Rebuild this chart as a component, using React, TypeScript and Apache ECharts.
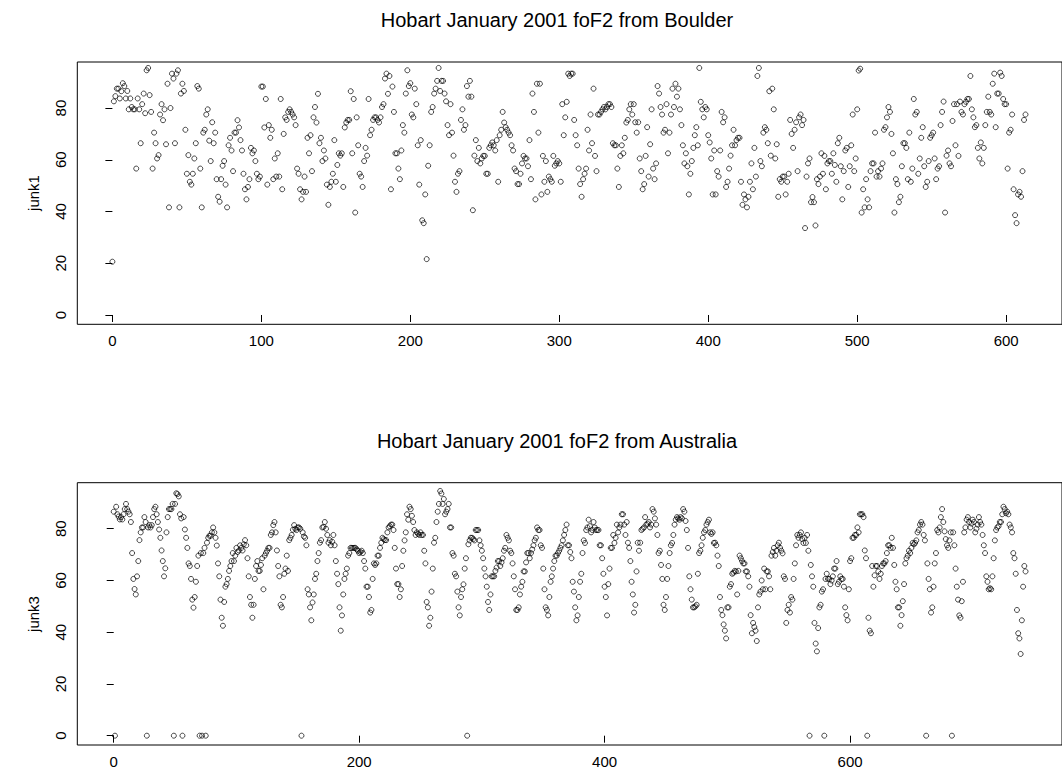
import React, { useEffect, useRef } from "react";
import * as echarts from "echarts";

// Hobart January 2001 foF2 from Boulder (hourly index 0..613)
const junk1: number[] = [
  20.6, 82.6, 84.6, 87.5, 87.5, 83.7, 86.5, 89.6, 88.5, 83.7,
  86.6, 79.5, 83.7, 80.4, 79.5, 79.5, 56.6, 83.7, 79.5, 66.4,
  81.5, 85.6, 78, 94.6, 95.5, 85, 78.5, 56.6, 70.5, 66.4,
  60.5, 61.8, 77.5, 81.5, 75.3, 79.5, 66, 89.4, 41.6, 80,
  93.3, 91.4, 66.4, 93.3, 94.6, 41.6, 85.6, 89.4, 86.6, 71.6,
  54.6, 61.8, 51.5, 50.4, 54.6, 60.5, 66.4, 88.5, 87.5, 56.6,
  41.6, 70.5, 71.6, 77.5, 79.5, 67.4, 59.5, 74.5, 66.4, 70.5,
  52.5, 45.7, 43.8, 52.5, 57.7, 59.5, 50.4, 41.6, 65.6, 68.5,
  63.6, 55.6, 70.5, 70.5, 75.3,
  72.5, 67.6, 63.6, 54.6, 48.6, 44.7, 49.5, 52.5, 64.6, 62.5, 63.6, 59.5, 54.6, 52.5, 53.5, 88.3, 88.3, 72.5, 83.5, 50.4,
  73.4, 68.5, 71.6, 52.5, 60.5, 53.5, 62.5, 53.5, 83.5, 48.6, 70, 76.4, 75.4, 78.5, 79.5, 78.5, 77.5, 76.4, 73.4, 56.6,
  54.6, 48.6, 44.7, 47.6, 53.5, 47.6, 68.5, 62.5, 69.5, 55.6, 76.4, 80.4, 74.4, 85.5, 66.4, 68.5, 59.5, 63.6, 60.5, 50.4,
  42.6, 49.5, 51.5, 54.6, 67.6, 51.5, 58, 62.5, 61.6, 62.5, 49.5, 72.5, 74.4, 75.4, 75.4, 86.5, 62.5, 83.5, 39.6, 76.4,
  65.6, 54.6, 53.5, 49.5, 59.5, 64.6, 61.6, 83.5, 69.5, 71.6, 75.4, 76.4, 76.4, 75.4, 74.4, 76.4, 80.4, 81.5, 91.4, 93.3,
  85.5, 92.4, 48.6, 88.3, 78.5, 62.5,
  62.5, 56.6, 52.5, 63.6, 73.4, 70.5, 85.6, 94.6, 88.5, 89.6, 77.5, 76.4, 87.5, 81.5, 65.6, 50.4, 67.6, 36.6, 35.5, 46.6,
  21.6, 57.7, 65.6, 78.5, 80.4, 85.6, 87.5, 90.5, 95.5, 86.6, 90.5, 90.5, 85.6, 82.6, 73.4, 69.5, 81.5, 70.5, 61.6, 51.5,
  47.6, 54.6, 55.6, 75.4, 79.5, 71.6, 73.4, 88.5, 84.4, 90.5, 84.4, 40.5, 61.6, 67.6, 59.5, 64.6, 58.6, 60.5, 61.5, 61.5,
  54.6, 54.6, 64.6, 65.6, 66.7, 65.6, 63.6, 67.6, 51.5, 69.5, 71.6, 78.5, 74.4, 72.6, 71.6, 70.5, 69.5, 65.6, 63.6, 56.6,
  55.6, 50.6, 50.6, 54.6, 58.6, 61.5, 60.5, 60.5, 57.5, 67.6, 52.5, 85.6, 78.5, 44.7, 89.4, 70.5, 89.4, 46.6, 61.5, 51.5,
  59.5, 47.6, 53.5, 52.5, 51.5, 61.5, 57.7,
  58.6, 59.5, 58.6, 51.5, 81.5, 69.5, 76.4, 82.4, 93.3, 92.4, 93.3, 93.3, 75.4, 69.5, 65.6, 56.6, 50.6, 45.7, 52.5, 54.6,
  56.6, 71.6, 63.6, 77.5, 66.4, 87.5, 61.5, 55.6, 77.5, 77.5, 78.5, 79.5, 80.4, 79.5, 80.4, 81.5, 81.5, 80.4, 66.4, 65.6,
  65.6, 56.6, 49.5, 61.5, 65.6, 62.5, 68.5, 74.4, 75.4, 79.5, 81.5, 77.5, 81.5, 74.5, 70.5, 74.5, 60.5, 55.6, 48.6, 50.6,
  61.5, 72.6, 53.5, 66, 79.5, 56.6, 52.5, 58.6, 88.5, 85.6, 80.4, 77.5, 70.5, 71.6, 81.5, 62.5, 70.5, 77.5, 87.5, 80.4,
  89.4, 84.4, 87.5, 79.5, 73.4, 65.6, 58.6, 62.5, 57.5, 46.6, 54.6, 59.5, 64.6, 69.5, 72.6, 65.6, 95.5, 82.4, 79.5, 76.4,
  80.4, 79.5, 69.5, 66.7, 60.5, 46.6,
  63.6, 46.6, 55.6, 53.5, 63.6, 78.5, 74.5, 76.4, 49.5, 51.5, 56.6, 61.6, 65.6, 71.6, 65.6, 67.6, 68.5, 68.5, 51.5, 42.6,
  46.6, 44.7, 41.6, 45.7, 51.5, 58.6, 48.6, 64.6, 53.5, 92.4, 95.5, 59.5, 57.5, 70.5, 72.6, 71.6, 66.4, 86.5, 61.6, 87.5,
  79.5, 60.5, 66, 45.7, 52.5, 51.5, 53.5, 53.5, 46.6, 51.5, 54.6, 75.4, 70, 64.6, 71.6, 74.5, 55.6, 76.4, 77.5, 73.4,
  75.4, 33.6, 53.5, 58.6, 60.5, 43.6, 45.6, 43.6, 34.6, 52.5, 50.6, 53.5, 62.5, 54.6, 61.5, 48.6, 58.6, 59.5, 59.5, 54.6,
  62.5, 58, 51.5, 66.4, 68.5, 57.5, 44.7, 55.6, 63.6, 64.6, 49.5, 57.5, 65.6, 77.5, 55.6, 60.5, 79.5, 94.5, 95.2, 39.6,
  48.6, 41.6, 52.5, 44.7, 41.6, 55.6, 58.6,
  58.6, 70.5, 53.5, 55.6, 53.5, 56.6, 58.6, 71.6, 72.6, 76.4, 80.4, 78.5, 70, 62.5, 39.6, 52.5, 50.6, 43.6, 45.7, 57.5,
  66.4, 66.4, 64.6, 52.5, 70.5, 51.5, 56.6, 83.5, 77.5, 78.5, 54.6, 60.5, 68.5, 72.6, 57.5, 49.5, 51.5, 59.5, 68.5, 69.5,
  70.5, 60.5, 52.5, 56.6, 57.5, 73.4, 78.5, 82.5, 39.6, 61.6, 63.6, 58.6, 57.5, 75, 81.5, 65.6, 81.5, 61.5, 82.5, 78.5,
  77.5, 81.5, 82.4, 83.5, 83.5, 92.4, 79.5, 76.4, 72.6, 73.4, 64.6, 60.5, 66.7, 58.6, 64.6, 73.4, 78.5, 84.4, 78.5, 77.5,
  89.4, 93.3, 72.6, 85.6, 85.6, 93.7, 92.4, 83.5, 81.5, 81.5, 56.6, 70.5, 71.6, 77.5, 48.6, 38.6, 35.5, 46.6, 47.6, 45.7,
  55.6, 75.4, 77.5,
];

// Hobart January 2001 foF2 from Australia (hourly index 0..743), read in blocks
const junk3A: number[] = [
  86.6, 89.6, 88.5, 85.6, 84.7, 83.6, 84.5, 83.6, 85.6, 87.6, 89.6, 87.6, 86.6, 85.6, 82.6, 70.6, 60.6, 56.7, 54.6, 61.6,
  67.5, 75.6, 78.6, 80.5, 80.5, 84.5, 82.6, 81.6, 80.5, 81.4, 80.5, 81.4, 84.5, 87.6, 88.5, 85.6, 82.6, 79.7, 76.5, 71.6,
  67.5, 61.6, 64.7, 78.6, 84.5, 87.6, 87.6, 87.6, 89.6, 89.6, 89.6, 93.7, 93.4, 92.5, 85.6, 84, 84.5, 84.5, 79.7, 76.5,
  72.6, 66.6, 65.6, 60.6, 52.6, 49.5, 53.6, 59.5, 65.6, 69.6, 69.6, 70.6, 70.6, 70.6, 72.6, 72.6, 74.6, 76.5, 77.3, 77.3,
  78.6, 80.5, 78.6, 76.5, 73.5, 66.6, 61.6, 52.6, 45.6, 42.5, 51.7, 57.6, 58.6, 60.6, 63.7, 65.6, 67.5, 70.6, 67.5, 69.6,
  72.6,
];
const junk3B: number[] = [
  71, 71.6, 73.6, 72.6, 71.6, 74, 75.6, 73.6, 68.6, 61.6, 53.6, 50.6, 45.6, 50.6, 60.6, 65.6, 67.5, 63.7, 63.7, 66,
  68.6, 56.6, 69.6, 70.6, 71.5, 72.6, 72.6, 77.6, 78.6, 81.4, 82.6, 78.6, 71.6, 65.6, 61.6, 50.6, 49.6, 53.6, 62.6, 64.6,
  69.6, 63.7, 75.6, 76.5, 77.6, 79.6, 81.4, 80, 79.5, 80.5, 80.5, 80, 79.5, 78.6, 77, 76.5, 73.6, 56.6, 54.6, 49.6,
  44.6, 51.5, 54.6, 60.6, 62.6, 67.5, 70.6, 74.6, 75.6, 80.5, 80.7, 82.6, 80, 77.6, 74.6, 75.6, 73.6, 75, 77.6, 73.6,
  67.5, 62.6, 58.6, 49.6, 40.6, 46.5, 54.6, 60.6, 62.6, 64.6, 69.6, 70.6, 72.6, 72.6, 72.6, 72.6, 72.6, 72, 71.5, 70.6,
  71, 71.5, 70.6, 67.5, 64.6, 57.6, 57.6, 53.6, 47.6, 48.6, 60.6, 66.6, 66, 66.6, 69.6, 69.6, 72.6, 74.6, 76.5, 76,
  75.6, 75.6, 78.6, 80.5, 81, 81.6, 81.6, 79.5, 72.6, 64.6, 58.6,
];
const junk3C: number[] = [
  58.6, 53.6, 56.6, 65.6, 71.5, 75.5, 78.6, 85.6, 83.5, 88.5, 87.6, 85, 82.6, 79.5, 77.6, 78.6, 78, 77.6, 78.6, 77.6,
  77.6, 71.5, 66.6, 51.7, 49.6, 42.5, 45.6, 55.7, 64.6, 74.6, 76.5, 82.6, 86.6, 89.6, 94.6, 93.6, 89.6, 91.5, 85.6, 86.6,
  87.6, 89.6, 80.5, 80.5, 70.6, 69.6, 62.6, 61.6, 55.7, 49.6, 46.5, 53.6, 56.6, 58.5, 64.6, 68.6, 73.6, 74, 75.5, 76.5,
  76.5, 76, 75.5, 79.5, 79.5, 79.5, 75.5, 73.6, 71.5, 68.6, 64.6, 61.6, 57.6, 51.7, 48.6, 54.6, 61.6, 61.6, 61.6, 63.7,
  65, 67.5, 67.5, 65.6, 67, 68.6, 71.5, 72.6, 77.6, 76.5, 75.5, 71.5, 70.6, 66.6, 61.6, 56.6, 48.6, 48.6, 49.6, 54.6,
  57.6, 59.5, 63.5, 63.5, 67, 70.6, 70.6, 68.6, 70.6, 72, 73.6, 75.5, 76.5, 80.5, 79.5, 79.5, 73.6, 72.6, 64.6, 56.6,
  49.6, 48.6, 46.5, 53.6, 59.5, 61.6, 64.6, 67.5, 69.6,
];
const junk3D: number[] = [
  69.6, 70.6, 71.5, 72.6, 73.6, 75.5, 77.6, 79.5, 81.6, 73.6, 73.6, 71, 68.6, 59.5, 55.7, 49.6, 44.6, 46.5, 53.6, 59.5,
  62.6, 70.6, 75.5, 74.5, 79.5, 80.5, 83.5, 81, 78.6, 79.5, 82.6, 80.5, 79.5, 79.5, 79.5, 73.6, 73.6,
  68.6, 62.6, 57.6, 53.6, 46.5, 58.6, 64.6, 72.6, 72.6, 77.6, 74.5, 76.5, 81.6, 78.6, 80.5, 81.6, 85.6, 85.6, 81.6, 77.6,
  82.6, 74.6, 72.6, 67.5, 59.5, 54.6, 47.6, 50.6, 63.5, 74.6, 71.5, 74.6, 79.5, 80, 80.5, 84.5, 81.6, 82, 82.6, 80.5,
  81.6, 87.6, 86.6, 84, 81.6, 77.6, 70.6, 71.5, 66, 60.6, 50.6, 48.6, 53.6, 60.6, 65.6, 70.6, 73.6, 74.5, 77.6, 81.6,
  83.5, 84.5, 84, 83.5, 84.5, 84, 87.6, 86.6, 83, 79.5, 72.6, 61.6, 56.6, 52.6, 49.6, 49.6, 50, 50.6, 62.6, 70.6,
  71.5, 73.6, 76.5, 78.6, 79.5, 81.6, 82.6, 83.5, 78.6, 78, 78.6, 74.5,
];
const junk3E: number[] = [
  74.6, 73.6, 69.6, 65.6, 53.6, 48.6, 46.6, 43, 40.6, 37.6, 49.6, 49.6, 57.6, 58.6, 62.6, 63, 63.7, 63.5, 54.6, 63.7,
  69.6, 68.6, 67.5, 66.6, 66.6, 63.5, 63.5, 61.6, 57.6, 46.6, 39.6, 43.6, 42, 40.6, 36.6, 49.6, 54.6, 55.7, 60, 56.6,
  64.6, 56.6, 63.5, 63.5, 61.6, 56.6, 69.6, 71, 72.6, 69.6, 71.5, 73.6, 74.6, 72.6, 71.5, 70.5, 61.6, 60.6, 43.6, 48.6,
  50.6, 47.6, 53.6, 52.6, 60.6, 66.6, 73.6, 77.6, 76.5, 77.6, 78.6, 76, 74.5, 76.5, 74.5, 77.6, 71.5, 71.5, 66, 61.6,
  57.6, 43.6, 35.6, 32.6, 41.6, 49.6, 50.6, 55.7, 56.6, 58.6, 60.6, 62.6, 60.6, 60.6, 58.6, 60, 61.6, 64.6, 64.6, 67.5,
  58.6, 59.5, 61.6, 60.6, 60.6, 57.6, 49.6, 46.6, 44.6, 56.6, 67.5, 68.6, 76.5, 76.5, 77.6, 77.6, 80.5, 78.6, 85.6, 85.6,
  85.6, 84.5, 71.6, 68.6, 57.6, 45.6, 40.6, 39.6, 65.6,
];
const junk3F: number[] = [
  57.6, 62, 65.6, 65.6, 63.5, 60.6, 62.6, 65.6, 66.6, 66.6, 67.5, 70.6, 73.6, 73.6, 72.6, 76.5, 72.6, 66, 59.5, 56.6,
  49.6, 49.6, 42.5, 46.6, 52, 58.6, 66.6, 68.6, 69.6, 71.5, 70.6, 72.6, 74.5, 74, 74.5, 75.5, 78.6, 79.5, 81.6, 82.6,
  81.6, 77.6, 75.5, 0, 66.6, 60.6, 56.6, 47.6, 49.6, 57.6, 66.6, 70.6, 79.5, 78.6, 80.5, 84.5, 87.6, 82.6, 79, 76,
  73.6, 72.6, 75.5, 78.6, 0, 78.6, 73.6, 64.6, 57.6, 52.6, 46.5, 45.6, 52, 59.5, 78.6, 80.5, 83.5, 84.5, 82.6, 80.5,
  82, 83.5, 82.6, 78.6, 80, 81.6, 84.5, 82.6, 81.6, 77.6, 73.6, 70.6, 61.6, 59.5, 56.6, 57, 56.6, 61.6, 68.6, 75.5,
  79.5, 80.5, 81, 82.6, 82.6, 85.6, 88.5, 87.6, 86, 86.6, 85.6, 81.6, 80.5, 78.6, 70.6, 68.6, 62.6, 48.6, 39.6, 37.6,
  31.6, 44.6, 57.6, 65.6, 63.5,
];
// hours at which the Australian record reads zero
const zeroHours: number[] = [1, 27, 49, 56, 70, 72, 75, 153, 288, 567, 579, 614, 662, 683];

const topTitle = "Hobart January 2001 foF2 from Boulder";
const bottomTitle = "Hobart January 2001 foF2 from Australia";
const topXTicks = [0, 100, 200, 300, 400, 500, 600];
const bottomXTicks = [0, 200, 400, 600];
const yTicks = [0, 20, 40, 60, 80];

const FONT = "'Liberation Sans', Arial, Helvetica, sans-serif";

export default function App() {
  const ref = useRef<HTMLDivElement>(null);
  useEffect(() => {
    document.body.style.margin = "0";
    if (!ref.current) return;
    const chart = echarts.init(ref.current, undefined, { renderer: "svg" });
    const junk3 = [...junk3A, ...junk3B, ...junk3C, ...junk3D, ...junk3E, ...junk3F];
    zeroHours.forEach((h) => {
      if (h < junk3.length) junk3[h] = 0;
    });
    const sym = {
      type: "scatter" as const,
      symbol: "circle",
      symbolSize: 5,
      itemStyle: { color: "rgba(0,0,0,0)", borderColor: "#000", borderWidth: 0.9 },
      emphasis: { disabled: true },
      silent: true,
    };
    const xAxisCommon = (ticks: number[]) => ({
      type: "value" as const,
      axisLine: { show: false },
      splitLine: { show: false },
      axisTick: { show: true, length: 7, lineStyle: { color: "#000", width: 1 }, customValues: ticks },
      axisLabel: { customValues: ticks, color: "#000", fontSize: 15, fontFamily: FONT, margin: 9 },
    });
    const yAxisCommon = {
      type: "value" as const,
      min: -3.6,
      max: 97.8,
      axisLine: { show: false },
      splitLine: { show: false },
      axisTick: { show: true, length: 7, lineStyle: { color: "#000", width: 1 }, customValues: yTicks },
      axisLabel: { customValues: yTicks, color: "#000", fontSize: 15, fontFamily: FONT, margin: 9, rotate: 90 },
    };
    chart.setOption({
      animation: false,
      backgroundColor: "#fff",
      grid: [
        { left: 77.3, top: 62, width: 993.2, height: 262.3, show: true, borderColor: "#000", borderWidth: 1, backgroundColor: "transparent" },
        { left: 77.3, top: 482.7, width: 992.5, height: 262.3, show: true, borderColor: "#000", borderWidth: 1, backgroundColor: "transparent" },
      ],
      xAxis: [
        { ...xAxisCommon(topXTicks), gridIndex: 0, min: -23.56, max: 637.5 },
        { ...xAxisCommon(bottomXTicks), gridIndex: 1, min: -29.67, max: 772.7 },
      ],
      yAxis: [
        { ...yAxisCommon, gridIndex: 0 },
        { ...yAxisCommon, gridIndex: 1 },
      ],
      series: [
        { ...sym, xAxisIndex: 0, yAxisIndex: 0, data: junk1.map((v, i) => [i, v]) },
        { ...sym, xAxisIndex: 1, yAxisIndex: 1, data: junk3.map((v, i) => [i, v]) },
      ],
      graphic: [
        { type: "text", x: 557, y: 20, style: { text: topTitle, font: `20px ${FONT}`, fill: "#000", textAlign: "center", textVerticalAlign: "middle" } },
        { type: "text", x: 557, y: 441, style: { text: bottomTitle, font: `20px ${FONT}`, fill: "#000", textAlign: "center", textVerticalAlign: "middle" } },
        { type: "text", x: 33, y: 193, rotation: Math.PI / 2, style: { text: "junk1", font: `15px ${FONT}`, fill: "#000", textAlign: "center", textVerticalAlign: "middle" } },
        { type: "text", x: 33, y: 614, rotation: Math.PI / 2, style: { text: "junk3", font: `15px ${FONT}`, fill: "#000", textAlign: "center", textVerticalAlign: "middle" } },
      ],
    });
    return () => chart.dispose();
  }, []);
  return <div ref={ref} style={{ width: 1062, height: 784 }} />;
}
